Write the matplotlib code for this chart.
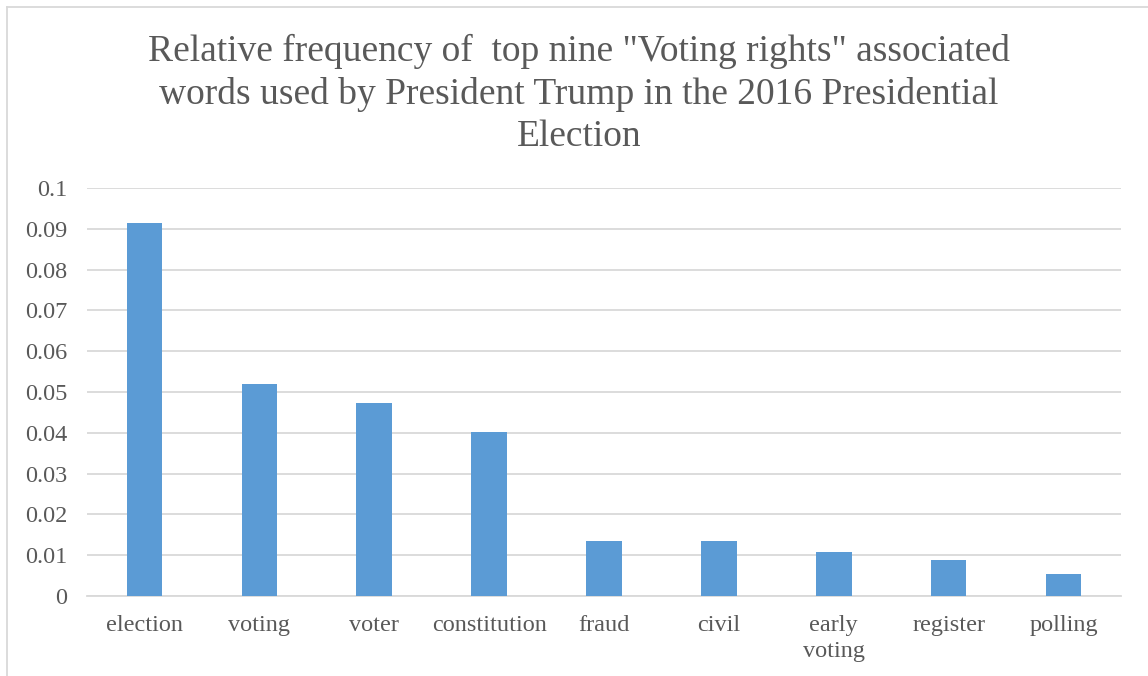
import matplotlib
matplotlib.use("Agg")
import matplotlib.pyplot as plt
from matplotlib.lines import Line2D

categories = ["election", "voting", "voter", "constitution", "fraud", "civil",
              "early\nvoting", "register", "polling"]
values = [0.0914, 0.0520, 0.0473, 0.0402, 0.0134, 0.0134, 0.0107, 0.0089, 0.0053]
yticks = [0, 0.01, 0.02, 0.03, 0.04, 0.05, 0.06, 0.07, 0.08, 0.09, 0.1]
ytick_labels = ["0", "0.01", "0.02", "0.03", "0.04", "0.05", "0.06", "0.07", "0.08", "0.09", "0.1"]
title = 'Relative frequency of  top nine "Voting rights" associated\nwords used by President Trump in the 2016 Presidential\nElection'

W, H = 1148, 676
fig = plt.figure(figsize=(W / 100, H / 100), dpi=100)
plt.rcParams['font.family'] = ['Liberation Serif', 'DejaVu Serif']
txt = "#595959"

ax = fig.add_axes([87 / W, (H - 596) / H, (1121 - 87) / W, (596 - 188) / H])
x = range(len(categories))
ax.bar(x, values, width=0.31, color="#5b9bd5", zorder=3)
ax.set_xlim(-0.5, len(categories) - 0.5)
ax.set_ylim(0, 0.1)
ax.set_yticks(yticks)
ax.set_yticklabels(ytick_labels)
ax.set_xticks(list(x))
ax.set_xticklabels(categories, linespacing=1.3)
ax.yaxis.grid(True, color="#d9d9d9", linewidth=1.3, zorder=0)
for s in ["top", "right", "left"]:
    ax.spines[s].set_visible(False)
ax.spines["bottom"].set_color("#d9d9d9")
ax.spines["bottom"].set_linewidth(1.3)
ax.tick_params(axis="both", length=0, labelsize=17.5, colors=txt)
ax.tick_params(axis="y", pad=14)
ax.tick_params(axis="x", pad=14)
for lab in ax.get_xticklabels() + ax.get_yticklabels():
    lab.set_color(txt)

fig.text(579 / W, 1 - 34 / H, title, ha="center", va="top", fontsize=27,
         color=txt, linespacing=1.29)

# chart border (top and left visible)
fig.add_artist(Line2D([7 / W, 1], [1 - 7 / H, 1 - 7 / H], color="#d9d9d9", lw=1.3,
                      transform=fig.transFigure))
fig.add_artist(Line2D([7 / W, 7 / W], [0, 1 - 7 / H], color="#d9d9d9", lw=1.3,
                      transform=fig.transFigure))

fig.savefig("out.png", dpi=100, facecolor="white")
